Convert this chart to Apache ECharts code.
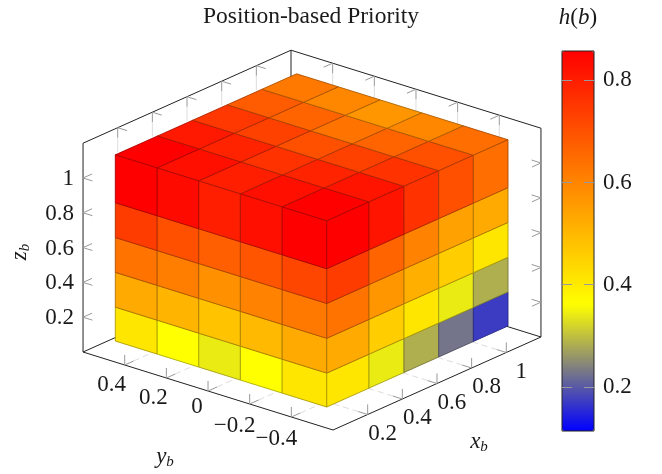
<!DOCTYPE html>
<html><head><meta charset="utf-8">
<style>html,body{margin:0;padding:0;background:#fff}#c{width:662px;height:474px}</style>
<script src="https://cdn.jsdelivr.net/npm/echarts@6/dist/echarts.min.js"></script>
</head><body><div id="c"></div>
<script>
// voxel boundaries in data units
const xEdges = [0.054, 0.298, 0.5, 0.7, 0.9, 1.1];
const yEdges = [-0.525, -0.31, -0.11, 0.09, 0.29, 0.49];
const zEdges = [0.08, 0.275, 0.475, 0.675, 0.875, 1.15];
// axis ticks
const xTicks = [0.2, 0.4, 0.6, 0.8, 1];
const yTicks = [-0.4, -0.2, 0, 0.2, 0.4];
const zTicks = [0.2, 0.4, 0.6, 0.8, 1];
const barTicks = [0.2, 0.4, 0.6, 0.8];
// h(b) on the upper surface: row = y from -0.4 to 0.4, column = x from 0.2 to 1
const topRows = [
  [0.857, 0.819, 0.760, 0.702, 0.644],
  [0.828, 0.789, 0.731, 0.663, 0.595],
  [0.799, 0.760, 0.702, 0.634, 0.566],
  [0.828, 0.789, 0.731, 0.663, 0.595],
  [0.857, 0.809, 0.751, 0.682, 0.624]
];
// h(b) on the x-low surface: row = z bottom to top, column = y from -0.4 to 0.4
const leftRows = [
  [0.410, 0.362, 0.342, 0.362, 0.410],
  [0.527, 0.498, 0.478, 0.508, 0.527],
  [0.624, 0.605, 0.576, 0.614, 0.634],
  [0.721, 0.692, 0.673, 0.702, 0.741],
  [0.857, 0.828, 0.799, 0.838, 0.857]
];
// h(b) on the y-low surface: row = z bottom to top, column = x from 0.2 to 1
const rightRows = [
  [0.410, 0.342, 0.284, 0.226, 0.172],
  [0.527, 0.459, 0.410, 0.342, 0.284],
  [0.634, 0.566, 0.517, 0.459, 0.410],
  [0.741, 0.663, 0.605, 0.546, 0.527],
  [0.857, 0.819, 0.760, 0.702, 0.644]
];
const hMin = 0.1137, hMax = 0.8575;
const mapColors = ['#0000ff', '#ffff00', '#ff8000', '#ff0000'];

const SERIF = '"Liberation Serif","Times New Roman",serif';
const INK = '#1a1a1a';
// oblique projection of the data box onto the plane of the page
const xRange = [0, 1.2], yRange = [-0.6, 0.6], zRange = [0, 1.2];
function proj(x, y, z) {
  return [333 + 173.3 * x - 208.3 * (y + 0.6),
          430 - 77.5 * x - 65 * (y + 0.6) - 174 * z];
}
function pt(api, x, y, z) { return api.coord(proj(x, y, z)); }

const faceData = [];
topRows.forEach((r, j) => r.forEach((v, i) => faceData.push([0, i, j, v])));
leftRows.forEach((r, k) => r.forEach((v, j) => faceData.push([1, j, k, v])));
rightRows.forEach((r, k) => r.forEach((v, i) => faceData.push([2, i, k, v])));

function shade(color) {
  const c = echarts.color.parse(color);
  return 'rgb(' + [c[0], c[1], c[2]].map(v => Math.round(v * 0.68)).join(',') + ')';
}
function renderFace(params, api) {
  const f = api.value(0), a = api.value(1), b = api.value(2);
  let c;
  if (f === 0) {
    const z = zEdges[5];
    c = [[xEdges[a], yEdges[b], z], [xEdges[a + 1], yEdges[b], z],
         [xEdges[a + 1], yEdges[b + 1], z], [xEdges[a], yEdges[b + 1], z]];
  } else if (f === 1) {
    const x = xEdges[0];
    c = [[x, yEdges[a], zEdges[b]], [x, yEdges[a + 1], zEdges[b]],
         [x, yEdges[a + 1], zEdges[b + 1]], [x, yEdges[a], zEdges[b + 1]]];
  } else {
    const y = yEdges[0];
    c = [[xEdges[a], y, zEdges[b]], [xEdges[a + 1], y, zEdges[b]],
         [xEdges[a + 1], y, zEdges[b + 1]], [xEdges[a], y, zEdges[b + 1]]];
  }
  const fill = api.visual('color');
  return {
    type: 'polygon',
    shape: { points: c.map(p => pt(api, p[0], p[1], p[2])) },
    style: { fill, stroke: shade(fill), lineWidth: 0.9 }
  };
}

function line(api, a, b, stroke, w, dash) {
  const p = pt(api, a[0], a[1], a[2]), q = pt(api, b[0], b[1], b[2]);
  return { type: 'line', shape: { x1: p[0], y1: p[1], x2: q[0], y2: q[1] },
           style: { stroke, lineWidth: w, lineDash: dash || null } };
}
function renderFrame(params, api) {
  const [x0, x1] = xRange, [y0, y1] = yRange, [z0, z1] = zRange;
  const k = [], EDGE = '#222', TICK = '#999', FAINT = '#ddd';
  const sx = 0.052, sy = 0.045, sz = 0.058; // short tick lengths
  const lx = 0.17, ly = 0.17, lz = 0.14;    // long tick lengths
  [[[x0,y1,z0],[x1,y1,z0]], [[x1,y0,z0],[x1,y1,z0]], [[x1,y1,z0],[x1,y1,z1]]]
    .forEach(e => k.push(line(api, e[0], e[1], EDGE, 1)));
  [[[x0,y0,z0],[x1,y0,z0]], [[x0,y0,z0],[x0,y1,z0]], [[x0,y1,z0],[x0,y1,z1]],
   [[x1,y0,z0],[x1,y0,z1]], [[x0,y1,z1],[x1,y1,z1]], [[x1,y0,z1],[x1,y1,z1]]]
    .forEach(e => k.push(line(api, e[0], e[1], EDGE, 1)));
  xTicks.forEach(t => {
    k.push(line(api, [t,y0,z0], [t,y0,z0+sz], TICK, 1));
    k.push(line(api, [t,y0+sy,z0], [t,y0+ly,z0], FAINT, 1, [6,4]));
    k.push(line(api, [t,y0,z0], [t,y0+sy,z0], TICK, 1));
    k.push(line(api, [t,y1,z1], [t,y1-sy,z1], TICK, 1));
    k.push(line(api, [t,y1,z1], [t,y1,z1-sz], TICK, 1));
    k.push(line(api, [t,y1,z1-sz], [t,y1,z1-lz], FAINT, 1));
  });
  yTicks.forEach(t => {
    k.push(line(api, [x0,t,z0], [x0,t,z0+sz], TICK, 1));
    k.push(line(api, [x0,t,z0], [x0+sx,t,z0], TICK, 1));
    k.push(line(api, [x0+sx,t,z0], [x0+lx,t,z0], FAINT, 1, [6,4]));
    k.push(line(api, [x1,t,z1], [x1-sx,t,z1], TICK, 1));
    k.push(line(api, [x1,t,z1], [x1,t,z1-sz], TICK, 1));
    k.push(line(api, [x1,t,z1-sz], [x1,t,z1-lz], FAINT, 1));
  });
  zTicks.forEach(t => {
    k.push(line(api, [x0,y1,t], [x0+sx,y1,t], TICK, 1));
    k.push(line(api, [x0,y1,t], [x0,y1-sy,t], TICK, 1));
    k.push(line(api, [x1,y0,t], [x1-sx,y0,t], TICK, 1));
    k.push(line(api, [x1,y0,t], [x1,y0+sy,t], TICK, 1));
  });
  return { type: 'group', children: k };
}

const rich = {
  i: { fontFamily: SERIF, fontStyle: 'italic', fontSize: 23, lineHeight: 26, fill: INK },
  s: { fontFamily: SERIF, fontStyle: 'italic', fontSize: 15, lineHeight: 15, verticalAlign: 'bottom', fill: INK },
  r: { fontFamily: SERIF, fontSize: 23, lineHeight: 26, fill: INK }
};
function txt(api, px, py, text, extra) {
  const c = api.coord([px, py]);
  return Object.assign({
    type: 'text', x: c[0], y: c[1],
    style: { text, fontFamily: SERIF, fontSize: 23, fill: INK, align: 'center', verticalAlign: 'middle', rich }
  }, extra || {});
}
const fmt = v => (v < 0 ? '\u2212' : '') + Math.abs(v);
function renderText(params, api) {
  const k = [];
  xTicks.forEach(t => {
    const p = proj(t, yRange[0], 0);
    k.push(txt(api, p[0] + 15, p[1] + 19, fmt(t)));
  });
  yTicks.forEach(t => {
    const p = proj(xRange[0], t, 0);
    const d = t < 0 ? [-15, 22] : (t === 0 ? [-11, 16] : [-13, 20]);
    k.push(txt(api, p[0] + d[0], p[1] + d[1], fmt(t)));
  });
  zTicks.forEach(t => {
    const p = proj(xRange[0], yRange[1], t);
    k.push(txt(api, p[0] - 9, p[1] + 1, fmt(t), { style: {
      text: fmt(t), fontFamily: SERIF, fontSize: 23, fill: INK, align: 'right', verticalAlign: 'middle' } }));
  });
  k.push(txt(api, 311, 17, 'Position-based Priority', { style: {
    text: 'Position-based Priority', fontFamily: SERIF, fontSize: 23.5, fill: INK, align: 'center', verticalAlign: 'middle' } }));
  k.push(txt(api, 479, 442, '{i|x}{s|b}'));
  k.push(txt(api, 165, 457, '{i|y}{s|b}'));
  k.push(txt(api, 20, 252, '{i|z}{s|b}', { rotation: Math.PI / 2 }));
  k.push(txt(api, 578, 18, '{i|h}{r|(}{i|b}{r|)}'));
  return { type: 'group', children: k };
}

const chart = echarts.init(document.getElementById('c'), null, { renderer: 'canvas' });
const barTickStyle = { lineStyle: { color: '#999', width: 1 } };
chart.setOption({
  animation: false,
  backgroundColor: '#fff',
  grid: [
    { left: 0, top: 0, width: 662, height: 474, show: false },
    { left: 562, top: 51, width: 32, height: 380, show: true, z: 10,
      backgroundColor: 'transparent', borderColor: '#222', borderWidth: 1 }
  ],
  xAxis: [
    { type: 'value', gridIndex: 0, min: 0, max: 662, show: false },
    { type: 'value', gridIndex: 1, min: 0, max: 1, show: false }
  ],
  yAxis: [
    { type: 'value', gridIndex: 0, min: 0, max: 474, inverse: true, show: false },
    { type: 'value', gridIndex: 1, position: 'right', min: hMin, max: hMax, z: 10,
      splitLine: { show: false }, axisLine: { show: false, onZero: false },
      axisTick: { inside: true, length: 10, customValues: barTicks, ...barTickStyle },
      axisLabel: { customValues: barTicks, margin: 9, formatter: v => String(v),
        fontFamily: SERIF, fontSize: 23, color: INK } },
    { type: 'value', gridIndex: 1, position: 'left', min: hMin, max: hMax, z: 10,
      splitLine: { show: false }, axisLine: { show: false, onZero: false },
      axisTick: { inside: true, length: 10, customValues: barTicks, ...barTickStyle },
      axisLabel: { show: false } }
  ],
  visualMap: {
    type: 'continuous', seriesIndex: 1, dimension: 3, min: hMin, max: hMax,
    left: 562, top: 51, itemWidth: 32, itemHeight: 380, padding: 0,
    calculable: false, hoverLink: false, realtime: false, text: null, showLabel: false,
    textStyle: { color: 'transparent', fontSize: 0 },
    inRange: { color: mapColors }
  },
  series: [
    { type: 'custom', coordinateSystem: 'cartesian2d', xAxisIndex: 0, yAxisIndex: 0, z: 1, clip: false, silent: true,
      data: [[0, 0]], renderItem: renderFrame },
    { type: 'custom', coordinateSystem: 'cartesian2d', xAxisIndex: 0, yAxisIndex: 0, z: 2, clip: false, silent: true,
      dimensions: ['face', 'a', 'b', 'h'], encode: { x: 1, y: 2 },
      data: faceData, renderItem: renderFace },
    { type: 'custom', coordinateSystem: 'cartesian2d', xAxisIndex: 0, yAxisIndex: 0, z: 3, clip: false, silent: true,
      data: [[0, 0]], renderItem: renderText }
  ]
});
</script></body></html>
